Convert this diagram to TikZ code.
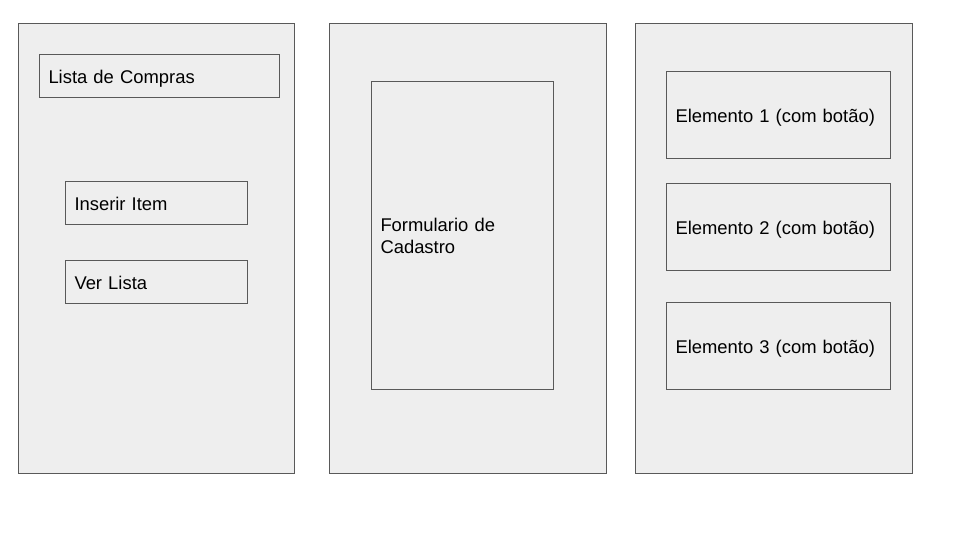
\documentclass[tikz,border=0pt]{standalone}
\usepackage{fontspec}
\setmainfont{Liberation Sans}
\definecolor{fundo}{HTML}{EEEEEE}
\definecolor{borda}{HTML}{595959}
\begin{document}
\begin{tikzpicture}[x=1pt,y=-1pt]
            \tikzset{
                tela/.style={draw=borda,fill=fundo,line width=1.3pt,rectangle,anchor=north west,inner sep=0pt},
                caixa/.style args={#1 by #2}{draw=borda,fill=fundo,line width=1pt,rectangle,anchor=north west,
                    inner xsep=9pt,inner ysep=0pt,text width=#1-18pt,minimum height=#2,align=left,
                    font=\fontsize{18.4}{22}\selectfont},
                linha/.style={text height=15pt,text depth=0pt},}
            \useasboundingbox (0,0) rectangle (960,540);
            \node [tela,minimum width=276pt,minimum height=450pt] (tela1) at (18,23) {};
            \node [tela,minimum width=277pt,minimum height=450pt] (tela2) at (329,23) {};
            \node [tela,minimum width=277pt,minimum height=450pt] (tela3) at (635,23) {};
            \node [caixa=240pt by 43pt,linha] (titulo) at (39,54) {Lista de Compras};
            \node [caixa=182pt by 43pt,linha] (inserir) at (65,181) {Inserir Item};
            \node [caixa=182pt by 43pt,linha] (ver) at (65,260) {Ver Lista};
            \node [caixa=182pt by 308pt] (form) at (371,81) {Formulario de\\Cadastro};
            \node [caixa=224pt by 87pt,linha] (elem1) at (666,71) {Elemento 1 (com botão)};
            \node [caixa=224pt by 87pt,linha] (elem2) at (666,183) {Elemento 2 (com botão)};
            \node [caixa=224pt by 87pt,linha] (elem3) at (666,302) {Elemento 3 (com botão)};
            % \draw [dotted] (0,0) grid[step=10] (960,540);
        \end{tikzpicture}
\end{document}
